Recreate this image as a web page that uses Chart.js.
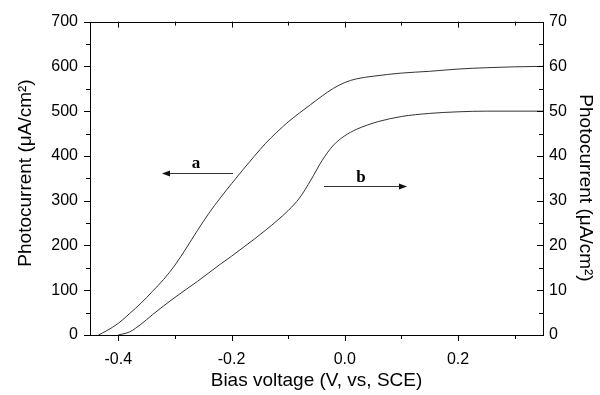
<!DOCTYPE html>
<html>
<head>
<meta charset="utf-8">
<script src="https://cdn.jsdelivr.net/npm/chart.js@4.4.0/dist/chart.umd.min.js"></script>
<style>
  body { margin: 0; background: #fff; }
</style>
</head>
<body>
<canvas id="myChart" width="600" height="395"></canvas>
<script>
// DATA
const voltsA = [-0.435, -0.42, -0.40, -0.38, -0.36, -0.34, -0.32, -0.30, -0.28, -0.26, -0.24, -0.22, -0.20,
    -0.18, -0.16, -0.14, -0.12, -0.10, -0.08, -0.06, -0.04, -0.02, 0.00, 0.02, 0.05, 0.10, 0.15, 0.20, 0.25, 0.30, 0.35];
const currentA = [0, 10, 26, 48, 71, 97, 124, 156, 194, 234, 272, 306, 338,
    369, 399, 428, 453, 476, 496, 515, 534, 551, 564, 572, 578, 585, 589, 594, 597, 599, 600];

const voltsB = [-0.40, -0.38, -0.36, -0.34, -0.32, -0.30, -0.28, -0.26, -0.24, -0.22, -0.20, -0.18, -0.16,
    -0.14, -0.12, -0.10, -0.08, -0.06, -0.04, -0.02, 0.00, 0.02, 0.04, 0.06, 0.10, 0.15, 0.20, 0.25, 0.35];
const currentB = [0, 0.7, 2.4, 4.5, 6.5, 8.4, 10.2, 12.0, 13.9, 15.8, 17.6, 19.5, 21.4,
    23.4, 25.5, 27.8, 30.6, 34.6, 39.0, 42.4, 44.5, 45.9, 46.9, 47.7, 48.8, 49.5, 49.85, 50, 50];

const xTicks = [-0.4, -0.2, 0.0, 0.2];
const xTitle = 'Bias voltage (V, vs, SCE)';
const yTitle = 'Photocurrent (\u03bcA/cm\u00b2)';

const FONT = '"Liberation Sans", Arial, sans-serif';

function toPoints(xs, ys) {
    return xs.map((x, i) => ({ x: x, y: ys[i] }));
}

// axis box, tick marks, titles and the a/b arrows
const decorations = {
    id: 'decorations',
    afterDraw(chart) {
        const ctx = chart.ctx;
        const area = chart.chartArea;
        const x = chart.scales.x;
        const yL = chart.scales.yL;
        const yR = chart.scales.yR;
        ctx.save();
        ctx.strokeStyle = '#000';
        ctx.lineWidth = 1;
        ctx.strokeRect(Math.round(area.left) + 0.5, Math.round(area.top) + 0.5,
            Math.round(area.right - area.left), Math.round(area.bottom - area.top));

        ctx.beginPath();
        for (let i = -4; i <= 3; i++) {
            const px = Math.round(x.getPixelForValue(i / 10)) + 0.5;
            const len = (i % 2 === 0) ? 6 : 4;
            ctx.moveTo(px, area.bottom); ctx.lineTo(px, area.bottom + len);
            ctx.moveTo(px, area.top); ctx.lineTo(px, area.top + len);
        }
        for (let v = 0; v <= 700; v += 50) {
            const py = Math.round(yL.getPixelForValue(v)) + 0.5;
            const len = (v % 100 === 0) ? 6 : 4;
            ctx.moveTo(area.left, py); ctx.lineTo(area.left - len, py);
        }
        for (let v = 0; v <= 70; v += 5) {
            const py = Math.round(yR.getPixelForValue(v)) + 0.5;
            const len = (v % 10 === 0) ? 6 : 4;
            ctx.moveTo(area.right, py); ctx.lineTo(area.right - len, py);
        }
        ctx.stroke();

        // titles
        ctx.fillStyle = '#000';
        ctx.font = '19px ' + FONT;
        ctx.textAlign = 'center';
        ctx.textBaseline = 'middle';
        ctx.fillText(xTitle, (area.left + area.right) / 2, 381);
        ctx.save();
        ctx.translate(26, 173);
        ctx.rotate(-Math.PI / 2);
        ctx.fillText(yTitle, 0, 0);
        ctx.restore();
        ctx.save();
        ctx.translate(585, 188);
        ctx.rotate(Math.PI / 2);
        ctx.fillText(yTitle, 0, 0);
        ctx.restore();

        // arrows
        ctx.strokeStyle = '#333';
        ctx.fillStyle = '#111';
        ctx.beginPath();
        ctx.moveTo(233, 173.5); ctx.lineTo(168, 173.5);
        ctx.moveTo(324, 186.5); ctx.lineTo(400, 186.5);
        ctx.stroke();
        ctx.beginPath();
        ctx.moveTo(162, 173.5); ctx.lineTo(170, 170.5); ctx.lineTo(170, 176.5); ctx.closePath();
        ctx.moveTo(407, 186.5); ctx.lineTo(399, 183.5); ctx.lineTo(399, 189.5); ctx.closePath();
        ctx.fill();

        ctx.fillStyle = '#000';
        ctx.font = 'bold 17px "Liberation Serif", "Times New Roman", serif';
        ctx.textBaseline = 'alphabetic';
        ctx.fillText('a', 196, 168);
        ctx.fillText('b', 361, 182);
        ctx.restore();
    }
};

// CHART CREATION
const ctx = document.getElementById('myChart');
new Chart(ctx, {
    type: 'scatter',
    data: {
        datasets: [{
            label: 'a',
            data: toPoints(voltsA, currentA),
            yAxisID: 'yL',
            showLine: true,
            borderColor: '#333',
            borderWidth: 1,
            pointRadius: 0,
            cubicInterpolationMode: 'monotone'
        }, {
            label: 'b',
            data: toPoints(voltsB, currentB),
            yAxisID: 'yR',
            showLine: true,
            borderColor: '#333',
            borderWidth: 1,
            pointRadius: 0,
            cubicInterpolationMode: 'monotone'
        }]
    },
    options: {
        responsive: false,
        animation: false,
        devicePixelRatio: 1,
        layout: { padding: { top: 18, left: 0, right: 0, bottom: 0 } },
        plugins: {
            legend: { display: false },
            tooltip: { enabled: false }
        },
        scales: {
            x: {
                type: 'linear',
                position: 'bottom',
                min: -0.45,
                max: 0.35,
                grid: { display: false, drawTicks: false },
                border: { display: false },
                afterBuildTicks: scale => { scale.ticks = xTicks.map(v => ({ value: v })); },
                afterFit: scale => { scale.height = 60; },
                ticks: {
                    padding: 15,
                    color: '#000',
                    font: { size: 16, family: FONT },
                    maxRotation: 0,
                    callback: v => v.toFixed(1)
                }
            },
            yL: {
                type: 'linear',
                position: 'left',
                min: 0,
                max: 700,
                grid: { display: false, drawTicks: false },
                border: { display: false },
                afterFit: scale => { scale.width = 90; },
                ticks: {
                    stepSize: 100,
                    padding: 12,
                    color: '#000',
                    font: { size: 16, family: FONT }
                }
            },
            yR: {
                type: 'linear',
                position: 'right',
                min: 0,
                max: 70,
                grid: { display: false, drawTicks: false },
                border: { display: false },
                afterFit: scale => { scale.width = 57; },
                ticks: {
                    stepSize: 10,
                    padding: 6,
                    color: '#000',
                    font: { size: 16, family: FONT }
                }
            }
        }
    },
    plugins: [decorations]
});
</script>
</body>
</html>
